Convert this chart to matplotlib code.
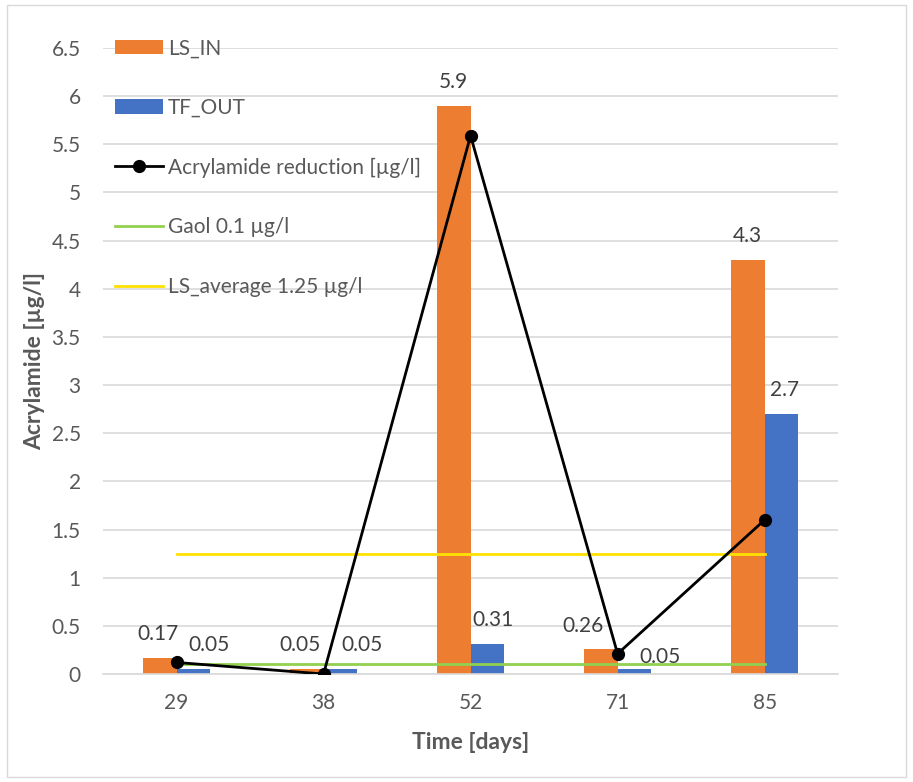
import numpy as np
import matplotlib
matplotlib.use("Agg")
import matplotlib.pyplot as plt
from matplotlib import patches

plt.rcParams['font.family'] = ['Lato', 'DejaVu Sans']

days = ['29', '38', '52', '71', '85']
ls_in = [0.17, 0.05, 5.9, 0.26, 4.3]
tf_out = [0.05, 0.05, 0.31, 0.05, 2.7]
reduction = [0.12, 0.0, 5.59, 0.21, 1.6]
goal = [0.1, 0.1, 0.1, 0.1, 0.1]
ls_avg = [1.25, 1.25, 1.25, 1.25, 1.25]

grey = '#595959'
orange = '#ED7D31'
blue = '#4472C4'

fig = plt.figure(figsize=(9.13, 7.82), dpi=100)
ax = fig.add_axes([0.1128, 0.1381, 0.8052, 0.8005])

# light border round the whole chart
fig.patches.append(patches.Rectangle((0.008, 0.006), 0.984, 0.988, transform=fig.transFigure,
                                     fill=False, edgecolor='#D9D9D9', linewidth=1))

x = np.arange(len(days))
w = 0.23
h1 = ax.bar(x - w / 2, ls_in, w, color=orange, label='LS_IN', zorder=2)
h2 = ax.bar(x + w / 2, tf_out, w, color=blue, label='TF_OUT', zorder=2)
h3, = ax.plot(x, reduction, '-o', color='black', lw=2, markersize=8.5, label='Acrylamide reduction [µg/l]', zorder=4)
h4, = ax.plot(x, goal, '-', color='#92D050', lw=2, label='Gaol 0.1 µg/l', zorder=3)
h5, = ax.plot(x, ls_avg, '-', color='#FFE100', lw=2, label='LS_average 1.25 µg/l', zorder=3)

# data labels, nudged sideways where they collided in the original (pixels)
in_offsets = [(-2, 24), (-7, 24), (0, 24), (-18, 23), (0, 24)]
out_offsets = [(16, 24), (22, 24), (6, 24), (26, 12), (3, 24)]
for xi, v, off in zip(x, ls_in, in_offsets):
    ax.annotate(f'{v:g}', (xi - w / 2, v), xytext=off, textcoords='offset pixels',
                ha='center', va='center', fontsize=15, color='#404040')
for xi, v, off in zip(x, tf_out, out_offsets):
    ax.annotate(f'{v:g}', (xi + w / 2, v), xytext=off, textcoords='offset pixels',
                ha='center', va='center', fontsize=15, color='#404040')

ax.set_xlim(-0.5, len(days) - 0.5)
ax.set_ylim(0, 6.5)
ax.set_yticks(np.arange(0, 6.51, 0.5))
ax.set_yticklabels([f'{t:g}' for t in np.arange(0, 6.51, 0.5)])
ax.set_xticks(x)
ax.set_xticklabels(days)
ax.tick_params(axis='both', length=0, labelsize=15, labelcolor=grey)
ax.tick_params(axis='y', pad=16)
ax.tick_params(axis='x', pad=14)
ax.grid(axis='y', color='#D9D9D9', linewidth=1.2, zorder=0)
ax.set_axisbelow(True)
for s in ['top', 'right', 'left']:
    ax.spines[s].set_visible(False)
ax.spines['bottom'].set_color('#D9D9D9')
ax.spines['bottom'].set_linewidth(1.2)

ax.set_ylabel('Acrylamide [µg/l]', fontsize=16.5, fontweight='bold', color=grey, labelpad=5)
ax.set_xlabel('Time [days]', fontsize=16.5, fontweight='bold', color=grey, labelpad=13)

ax.legend(handles=[h1, h2, h3, h4, h5], loc='upper left', bbox_to_anchor=(0.126, 0.951),
          bbox_transform=fig.transFigure, frameon=False, fontsize=15, labelspacing=1.9,
          handlelength=2.3, handletextpad=0.25, borderpad=0, borderaxespad=0, labelcolor=grey)

fig.savefig('out.png', dpi=100)
